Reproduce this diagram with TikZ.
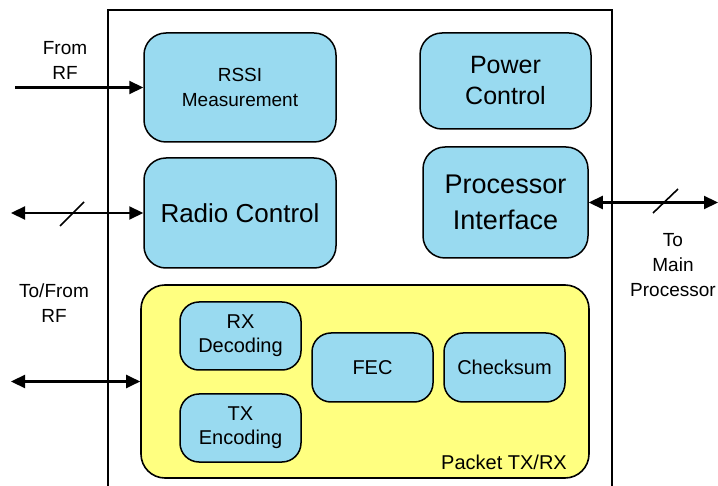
\documentclass[tikz,border=0pt]{standalone}
\usepackage{fontspec}
\setmainfont{Liberation Sans}
\usetikzlibrary{arrows.meta}
\definecolor{blockblue}{HTML}{99DAF0}
\definecolor{packetyellow}{HTML}{FFFF80}
\tikzset{
  block/.style={draw=black, line width=1.5pt, fill=blockblue, rounded corners=22pt,
    align=center, inner sep=0pt, text=black},
  subblock/.style={draw=black, line width=1.5pt, fill=blockblue, rounded corners=19pt,
    align=center, inner sep=0pt, text=black, font=\fontsize{20}{24}\selectfont},
  group/.style={draw=black, line width=1.6pt, fill=packetyellow, rounded corners=24pt, inner sep=0pt},
  sig/.style={line width=2.2pt, -{Triangle[length=14pt,width=13pt]}},
  bisig/.style={line width=2.2pt, {Triangle[length=14pt,width=13pt]}-{Triangle[length=14pt,width=13pt]}},
  busmark/.style={line width=1.6pt},
  lbl/.style={align=center, inner sep=0pt, font=\fontsize{19}{25}\selectfont, text=black}
}
\begin{document}
\begin{tikzpicture}[x=1pt,y=-1pt]
  \useasboundingbox (0,0) rectangle (718,486);
  \clip (0,0) rectangle (718,486);

  % module outline, continuing below the page edge
  \draw[line width=2.8pt] (108,500) -- (108,10) -- (612,10) -- (612,500);

  % top blocks
  \node[block, minimum width=192pt, minimum height=109pt,
        font=\fontsize{19}{25}\selectfont] (rssi) at (240,87.5) {RSSI\\Measurement};
  \node[block, minimum width=192pt, minimum height=110pt,
        font=\fontsize{26}{30}\selectfont] (radio) at (240,213) {Radio Control};
  \node[block, minimum width=171pt, minimum height=96pt,
        font=\fontsize{25}{31}\selectfont] (power) at (505.5,81) {Power\\Control};
  \node[block, minimum width=165pt, minimum height=111pt,
        font=\fontsize{27}{36}\selectfont] (proc) at (505.5,202.5) {Processor\\Interface};

  % packet engine
  \node[group, minimum width=448pt, minimum height=193pt] (packet) at (365,381.5) {};
  \node[subblock, minimum width=121pt, minimum height=68pt] (rx) at (240.5,336) {RX\\Decoding};
  \node[subblock, minimum width=121pt, minimum height=68pt] (tx) at (240.5,428) {TX\\Encoding};
  \node[subblock, minimum width=121pt, minimum height=69pt] (fec) at (372.5,367.5) {FEC};
  \node[subblock, minimum width=121pt, minimum height=69pt] (chk) at (504.5,367.5) {Checksum};
  \node[anchor=base east, inner sep=0pt, font=\fontsize{20}{24}\selectfont] (pktlbl)
        at (567,469) {Packet TX/RX};

  % external signals
  \coordinate (rfin) at (15,87.5);
  \coordinate (rfctl) at (11,213);
  \coordinate (rfpkt) at (11,381.5);
  \coordinate (host) at (718,202.5);

  \draw[sig] (rfin) -- (rssi.west);
  \draw[bisig] (rfctl) -- (radio.west);
  \draw[bisig] (rfpkt) -- (packet.west);
  \draw[bisig] (proc.east) -- (host);

  % bus markers
  \coordinate (m1a) at (60,226);  \coordinate (m1b) at (84,202);
  \coordinate (m2a) at (653,213); \coordinate (m2b) at (678,189);
  \draw[busmark] (m1a) -- (m1b);
  \draw[busmark] (m2a) -- (m2b);

  % labels
  \node[lbl] (lfrom) at (65,60) {From\\RF};
  \node[lbl] (lto) at (54,303) {To/From\\RF};
  \node[lbl] (lmain) at (673,265) {To\\Main\\Processor};
\end{tikzpicture}
\end{document}
